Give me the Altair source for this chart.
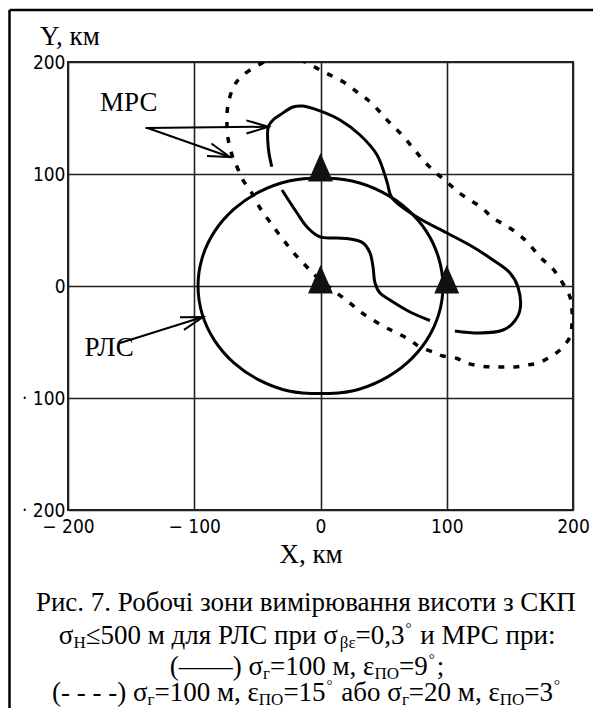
import glob
import math
import struct

import altair as alt
import pandas as pd

# ------------------------------------------------------------------ data
# РЛС zone (closed contour), km
rls_x = [97, 93.6, 84.0, 68.6, 48.5, 25.1, 0, -25.1, -48.5, -68.6, -84.0, -93.7,
         -97, -93.7, -84.0, -68.6, -48.5, -25.1, 0, 25.1, 48.5, 68.6, 84.0, 93.7]
rls_y = [0, 25.0, 48.5, 68.6, 84.0, 93.7, 96.5, 93.7, 84.0, 68.6, 48.5, 25.1,
         0, -25.1, -48.5, -68.6, -84.0, -93.7, -96, -93.7, -84.0, -68.6, -48.5, -25.1]

# МРС, solid contour: outer branch
mrs1_x = [-38.6, -41.3, -41.3, -36.8, -32.1, -21.8, -13.9, -0.4, 15.4, 31.3, 44.8,
          52.7, 56.6, 76.4, 100.2, 120.8, 136.6, 150.1, 156.4, 158.0, 152.5, 144.6,
          126.3, 106.5]
mrs1_y = [106.5, 122.9, 142.2, 149.1, 152.7, 159.8, 160.7, 156.3, 148.2, 134.8, 117.0,
          92.9, 78.6, 61.6, 47.3, 34.8, 23.2, 11.6, -0.9, -21.4, -33.0, -39.3,
          -42.0, -40.2]
# МРС, solid contour: inner S-branch
mrs2_x = [-30.5, -18.6, -10.7, -0.4, 13.1, 23.4, 33.7, 39.2, 41.6, 43.2, 47.1, 55.0,
          70.9, 86.7]
mrs2_y = [85.7, 65.2, 52.7, 43.8, 42.9, 42.0, 38.4, 29.5, 17.0, 2.7, -6.3, -12.5,
          -23.2, -30.8]

# МРС, dashed contour (closed, partly above the plot)
mrsd_x = [-46.3, -55.8, -63.8, -69.3, -73.3, -74.1, -73.3, -70.1, -66.1, -61.4, -54.3,
          -47.9, -40.0, -31.0, -21.8, -12.3, -2.8, 13.1, 23.4, 32.9, 49.5, 60.6, 70.9,
          78.8, 89.1, 97.0, 107.7, 116.0, 126.3, 135.8, 144.6, 154.1, 163.6, 172.3,
          180.2, 189.7, 197.6, 199.2, 199.2, 197.6, 191.3, 183.4, 173.9, 164.4, 155.6,
          146.1, 136.6, 127.9, 118.4, 108.9, 100.2, 90.7, 81.2, 73.3, 64.6, 55.0, 47.1,
          37.6, 28.9, 19.4, 9.1, -0.4, -10.7, -20.0, -32.0, -41.0]
mrsd_y = [199.1, 192.9, 185.7, 176.8, 161.6, 146.4, 132.1, 117.0, 106.3, 94.6, 83.0,
          69.6, 57.1, 43.5, 30.4, 18.8, 8.0, -6.3, -15.2, -24.1, -35.7, -42.0, -48.2,
          -54.5, -58.9, -62.5, -64.5, -68.8, -71.4, -72.3, -72.3, -72.3, -70.5, -68.8,
          -64.3, -57.1, -45.5, -33.0, -21.4, -9.8, 3.6, 16.1, 25.9, 38.4, 47.3,
          54.5, 60.7, 69.6, 76.8, 83.9, 92.9, 101.8, 112.5, 123.2, 134.8, 145.5, 155.4,
          166.1, 173.2, 181.3, 187.5, 192.9, 199.1, 204.0, 205.0, 203.0]

# station positions
site_x = [0, 0, 100]
site_y = [0, 100, 0]

# annotation arrows (from -> to), km
arrow_x0 = [-138.6, -137.0, -158.8]
arrow_y0 = [141.1, 141.1, -50.9]
arrow_x1 = [-41.3, -71.7, -93.1]
arrow_y1 = [142.2, 115.2, -27.7]

label_text = ["МРС", "РЛС"]
label_x = [-151.9, -167.5]
label_y = [163.4, -55.4]

tick_values = [-200, -100, 0, 100, 200]
x_title = "X, км"
y_title = "Y, км"

caption = [
    [("Рис. 7. Робочі зони вимірювання висоти з СКП", "n")],
    [("σ", "n"), ("H", "sub"), ("≤500 м для РЛС при σ", "n"), ("βε", "sub"),
     ("=0,3", "n"), ("°", "sup"), (" и МРС при:", "n")],
    [("(——) σ", "n"), ("г", "sub"), ("=100 м, ε", "n"), ("ПО", "sub"), ("=9", "n"),
     ("°", "sup"), (";", "n")],
    [("(- - - -) σ", "n"), ("г", "sub"), ("=100 м, ε", "n"), ("ПО", "sub"), ("=15", "n"),
     ("°", "sup"), (" або σ", "n"), ("г", "sub"), ("=20 м, ε", "n"), ("ПО", "sub"),
     ("=3", "n"), ("°", "sup")],
]

# ------------------------------------------------------------------ layout / style
W, H = 505, 448
PAD_L, PAD_T = 68, 62
SERIF = "Liberation Serif"
NARROW = "Liberation Sans Narrow, Arial Narrow, DejaVu Sans Condensed"
FS = 27
TICK_FS = 19
KX = W / 400.0
KY = H / 400.0


def load_width_fn(patterns):
    paths = []
    for p in patterns:
        for root in ["/usr/share/fonts", "/usr/local/share/fonts", "/root/.fonts"]:
            paths += glob.glob(root + "/**/" + p, recursive=True)
    if not paths:
        return lambda t, s: len(t) * 0.5 * s
    data = open(paths[0], "rb").read()
    ntab = struct.unpack(">H", data[4:6])[0]
    tabs = {}
    for i in range(ntab):
        tag, _, off, ln = struct.unpack(">4sIII", data[12 + 16 * i:28 + 16 * i])
        tabs[tag.decode("latin-1")] = off
    upem = struct.unpack(">H", data[tabs["head"] + 18:tabs["head"] + 20])[0]
    nhm = struct.unpack(">H", data[tabs["hhea"] + 34:tabs["hhea"] + 36])[0]
    ho = tabs["hmtx"]
    adv = [struct.unpack(">H", data[ho + 4 * i:ho + 4 * i + 2])[0] for i in range(nhm)]
    co = tabs["cmap"]
    nsub = struct.unpack(">H", data[co + 2:co + 4])[0]
    cmap = {}
    for i in range(nsub):
        pid, eid, so = struct.unpack(">HHI", data[co + 4 + 8 * i:co + 12 + 8 * i])
        sub = co + so
        fmt = struct.unpack(">H", data[sub:sub + 2])[0]
        if fmt == 4 and pid == 3 and eid == 1:
            sx2 = struct.unpack(">H", data[sub + 6:sub + 8])[0]
            n = sx2 // 2
            ends = struct.unpack(">%dH" % n, data[sub + 14:sub + 14 + sx2])
            starts = struct.unpack(">%dH" % n, data[sub + 16 + sx2:sub + 16 + 2 * sx2])
            deltas = struct.unpack(">%dh" % n, data[sub + 16 + 2 * sx2:sub + 16 + 3 * sx2])
            rpos = sub + 16 + 3 * sx2
            roffs = struct.unpack(">%dH" % n, data[rpos:rpos + sx2])
            for s in range(n):
                for c in range(starts[s], ends[s] + 1):
                    if c == 0xFFFF:
                        continue
                    if roffs[s] == 0:
                        g = (c + deltas[s]) & 0xFFFF
                    else:
                        p = rpos + 2 * s + roffs[s] + 2 * (c - starts[s])
                        g = struct.unpack(">H", data[p:p + 2])[0]
                        if g:
                            g = (g + deltas[s]) & 0xFFFF
                    cmap[c] = g
            break

    def width(text, size):
        tot = 0
        for ch in text:
            g = cmap.get(ord(ch), 0)
            tot += adv[min(g, nhm - 1)]
        return tot * size / upem

    return width


text_width = load_width_fn(["LiberationSerif-Regular.ttf"])

# ------------------------------------------------------------------ tables
def path_df(xs, ys, seg=0):
    return pd.DataFrame({"x": xs, "y": ys, "i": list(range(len(xs))), "seg": seg})


rls_df = path_df(rls_x, rls_y)
solid_df = pd.concat([path_df(mrs1_x, mrs1_y, 1), path_df(mrs2_x, mrs2_y, 2)])
dash_df = path_df(mrsd_x, mrsd_y)
site_df = pd.DataFrame({"x": site_x, "y": site_y})

shaft_rows, head_rows = [], []
for k in range(len(arrow_x0)):
    shaft_rows.append({"x": arrow_x0[k], "y": arrow_y0[k], "i": 0, "seg": k})
    shaft_rows.append({"x": arrow_x1[k], "y": arrow_y1[k], "i": 1, "seg": k})
    ang = math.degrees(math.atan2(-(arrow_y1[k] - arrow_y0[k]) * KY,
                                  (arrow_x1[k] - arrow_x0[k]) * KX)) % 360
    head_rows.append({"x": arrow_x1[k], "y": arrow_y1[k], "ang": ang})
shaft_df = pd.DataFrame(shaft_rows)
head_df = pd.DataFrame(head_rows)
lab_df = pd.DataFrame({"x": label_x, "y": label_y, "t": label_text})

# ------------------------------------------------------------------ encodings
scale_x = alt.Scale(domain=[-200, 200], nice=False, zero=False)
scale_y = alt.Scale(domain=[-200, 200], nice=False, zero=False)
axis_x = alt.Axis(values=tick_values, grid=True, ticks=False, domain=False,
                  labelExpr="datum.value < 0 ? '\u2212 ' + abs(datum.value) : datum.label",
                  labelFont=NARROW, labelFontSize=TICK_FS, labelColor="black",
                  labelPadding=7, labelFlush=False, labelOverlap=False, title=None,
                  gridColor="#222222", gridWidth=1.6, gridOpacity=1)
axis_y = alt.Axis(values=tick_values, grid=True, ticks=False, domain=False,
                  labelExpr="datum.value < 0 ? '\u00b7 ' + abs(datum.value) : datum.label",
                  labelFont=NARROW, labelFontSize=TICK_FS, labelColor="black",
                  labelPadding=3, labelFlush=False, labelOverlap=False, title=None,
                  gridColor="#222222", gridWidth=1.6, gridOpacity=1)
X = alt.X("x:Q", scale=scale_x, axis=axis_x)
Y = alt.Y("y:Q", scale=scale_y, axis=axis_y)

rls = alt.Chart(rls_df).mark_line(
    color="black", strokeWidth=3, interpolate="cardinal-closed", clip=True
).encode(x=X, y=Y, order="i:Q")

solid = alt.Chart(solid_df).mark_line(
    color="black", strokeWidth=3, interpolate="catmull-rom", clip=True
).encode(x=X, y=Y, detail="seg:N", order="i:Q")

dashed = alt.Chart(dash_df).mark_line(
    color="black", strokeWidth=3.5, strokeDash=[6, 9], interpolate="cardinal-closed",
    clip=True
).encode(x=X, y=Y, order="i:Q")

sites = alt.Chart(site_df).mark_point(
    shape="M0,-1.68L1,0.6L-1,0.6Z", filled=True, size=625, color="#111111", opacity=1
).encode(x=X, y=Y)

shafts = alt.Chart(shaft_df).mark_line(color="black", strokeWidth=2).encode(
    x=X, y=Y, detail="seg:N", order="i:Q")

heads = alt.Chart(head_df).mark_point(
    shape="M-1,-0.3L0,0L-1,0.3", filled=False, size=1936, color="black",
    strokeWidth=2, opacity=1
).encode(x=X, y=Y, angle=alt.Angle("ang:Q", scale=None))

labels = alt.Chart(lab_df).mark_text(
    font=SERIF, fontSize=FS, color="black", align="center", baseline="middle"
).encode(x=X, y=Y, text="t:N")

dummy = pd.DataFrame({"a": [0]})


def txt(text, px, py, size, align="left"):
    return alt.Chart(dummy).mark_text(
        text=text, font=SERIF, fontSize=size, color="black", align=align,
        baseline="alphabetic"
    ).encode(x=alt.value(px), y=alt.value(py))


text_layers = [
    txt(y_title, 40 - PAD_L, 45 - PAD_T, FS),
    txt(x_title, 311 - PAD_L, 563 - PAD_T, FS, align="center"),
]

line_base = [611, 644, 675, 701]
center_x = 307 - PAD_L
SUB_FS = round(FS * 0.62)
SUP_FS = round(FS * 0.55)
SUP_GAP = 3
for segs, base in zip(caption, line_base):
    widths = []
    for t, kind in segs:
        size = FS if kind == "n" else (SUB_FS if kind == "sub" else SUP_FS)
        widths.append(text_width(t, size) + (SUP_GAP if kind == "sup" else 0))
    x0 = center_x - sum(widths) / 2.0
    for (t, kind), w in zip(segs, widths):
        # SVG drops leading blanks, so shift the start instead
        shown = t.lstrip(" ")
        lead = text_width(t[:len(t) - len(shown)], FS)
        if kind == "n":
            text_layers.append(txt(shown, x0 + lead, base - PAD_T, FS))
        elif kind == "sub":
            text_layers.append(txt(shown, x0 + lead, base - PAD_T + 4, SUB_FS))
        else:
            text_layers.append(txt(shown, x0 + lead + 1, base - PAD_T - 11, SUP_FS))
        x0 += w

frame = [
    alt.Chart(dummy).mark_rule(color="black", strokeWidth=2.5).encode(
        x=alt.value(9.5 - PAD_L), x2=alt.value(600 - PAD_L), y=alt.value(10 - PAD_T)),
    alt.Chart(dummy).mark_rule(color="black", strokeWidth=2.5).encode(
        x=alt.value(9.5 - PAD_L), y=alt.value(10 - PAD_T), y2=alt.value(720 - PAD_T)),
]

chart = alt.layer(
    rls, solid, dashed, sites, shafts, heads, labels, *text_layers, *frame
).properties(
    width=W, height=H,
    autosize=alt.AutoSizeParams(type="none"),
    padding={"left": PAD_L, "top": PAD_T, "right": 593 - PAD_L - W,
             "bottom": 708 - PAD_T - H},
    background="white",
).configure_view(stroke="#222222", strokeWidth=2)

chart.save("out.html", embed_options={"renderer": "svg", "actions": False})
